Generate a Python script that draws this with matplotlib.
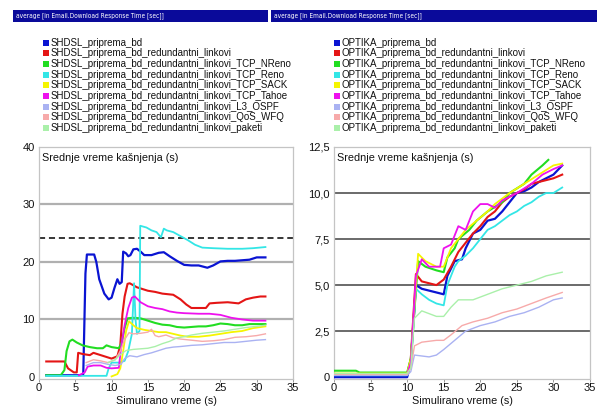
import matplotlib
matplotlib.use("Agg")
import matplotlib.pyplot as plt
from matplotlib.patches import Rectangle

plt.rcParams['font.family'] = ['Liberation Sans', 'DejaVu Sans']

W, H = 597, 407

header_text = "average [in Email.Download Response Time [sec]]"
y_title = "Srednje vreme kašnjenja (s)"
x_title = "Simulirano vreme (s)"

suffixes = ["priprema_bd", "priprema_bd_redundantni_linkovi",
            "priprema_bd_redundantni_linkovi_TCP_NReno",
            "priprema_bd_redundantni_linkovi_TCP_Reno",
            "priprema_bd_redundantni_linkovi_TCP_SACK",
            "priprema_bd_redundantni_linkovi_TCP_Tahoe",
            "priprema_bd_redundantni_linkovi_L3_OSPF",
            "priprema_bd_redundantni_linkovi_QoS_WFQ",
            "priprema_bd_redundantni_linkovi_paketi"]
left_names = ["SHDSL_" + s for s in suffixes]
right_names = ["OPTIKA_" + s for s in suffixes]
colors = ["#0a14d2", "#e41515", "#22dd22", "#33e6e6", "#f5f500",
          "#ee11ee", "#aab2f2", "#f7aaaa", "#aaf0aa"]

x_ticks = [0, 5, 10, 15, 20, 25, 30, 35]
left_yticks = [0, 10, 20, 30, 40]
left_ytick_labels = ["0", "10", "20", "30", "40"]
right_yticks = [0, 2.5, 5, 7.5, 10, 12.5]
right_ytick_labels = ["0", "2,5", "5,0", "7,5", "10,0", "12,5"]
left_threshold = 24.1

# ---------------- left panel (SHDSL) ----------------
L_blue_x = [1, 5.8, 6.1, 6.4, 6.6, 7.6, 7.9, 8.3, 9, 9.6, 10, 10.4, 10.8, 11.1, 11.4, 11.6, 12, 12.3, 12.6, 13, 13.5, 14, 14.5, 15.5, 16.5, 17.2, 18, 19, 20, 21, 22, 23.2, 24, 25, 26, 27, 28, 29, 30, 31.2]
L_blue_y = [0.3, 0.3, 0.5, 18, 21.3, 21.3, 20, 17, 14.5, 13.5, 13.8, 15.5, 17, 16.2, 16.5, 21.8, 21.5, 21, 21.2, 22.2, 22.3, 21.8, 21.2, 21.2, 21.6, 21.7, 21, 20.2, 19.5, 19.4, 19.4, 19.0, 19.4, 20.1, 20.2, 20.2, 20.3, 20.4, 20.8, 20.8]
L_red_x = [1, 3.5, 4, 4.8, 5.2, 5.4, 6, 7, 7.5, 8, 9, 10, 10.8, 11.2, 11.5, 11.8, 12.2, 12.5, 13.5, 15, 16, 17, 18.5, 19.5, 20.3, 21, 22, 23, 23.5, 24.5, 26, 27.5, 28.5, 29.5, 30.5, 31.2]
L_red_y = [2.7, 2.7, 1.5, 0.8, 0.8, 4.2, 4.0, 3.8, 4.2, 4.0, 3.6, 3.2, 3.6, 5.5, 11, 14, 16.2, 16.3, 15.6, 15, 14.8, 14.5, 14.3, 13.5, 12.6, 12.0, 12.0, 12.0, 12.8, 12.9, 13.0, 12.8, 13.5, 13.8, 14.0, 14.0]
L_green_x = [1, 3, 3.5, 3.8, 4.2, 4.6, 5.2, 6, 7, 8, 8.8, 9.3, 10, 11, 11.4, 11.8, 12.2, 13, 14, 15, 16, 17, 18, 19, 20, 21, 22, 23, 24, 25, 26, 27, 28, 29, 30, 31.2]
L_green_y = [0.3, 0.3, 1.2, 4.5, 6.2, 6.5, 6.0, 5.5, 5.2, 5.0, 5.0, 5.5, 5.2, 5.0, 6, 8.5, 10.2, 10.3, 10.2, 9.8, 9.4, 9.1, 9.0, 8.7, 8.6, 8.7, 8.8, 8.8, 9.0, 9.3, 9.2, 9.0, 9.0, 9.2, 9.2, 9.2]
L_cyan_x = [1, 9.3, 9.6, 10, 11, 11.8, 12.3, 12.8, 13.1, 13.3, 13.5, 13.85, 13.95, 14.8, 15.5, 16.2, 16.8, 17.2, 17.6, 18.5, 19.5, 20.5, 21.5, 22.5, 24, 26, 28, 29.5, 31.2]
L_cyan_y = [0.2, 0.2, 1.5, 2.5, 2.5, 2.8, 4.5, 7.5, 16.3, 10, 7.5, 8, 26.3, 26, 25.5, 25.2, 24.3, 25.8, 25.5, 25.2, 24.5, 23.8, 23.0, 22.5, 22.4, 22.3, 22.3, 22.4, 22.6]
L_yellow_x = [10, 10.8, 11.2, 11.6, 12, 12.4, 13, 13.5, 14.5, 15.5, 16.5, 17.5, 18.5, 19.5, 20.5, 22, 23.5, 25, 26.5, 28, 29.5, 31.2]
L_yellow_y = [0.1, 0.5, 1.5, 4.5, 8, 9.7, 9.0, 8.5, 8.2, 8.0, 7.8, 7.8, 7.5, 7.2, 7.0, 7.0, 7.2, 7.5, 7.8, 8.0, 8.5, 8.8]
L_magenta_x = [5.5, 6.3, 6.7, 7.5, 8.5, 9.3, 10, 11, 11.3, 11.8, 12.3, 12.8, 13.2, 14, 15, 16, 17, 18, 19, 20, 22, 23.5, 25, 26.5, 28, 29.5, 31.2]
L_magenta_y = [0.3, 0.8, 1.8, 2.0, 2.0, 1.6, 1.5, 1.6, 5, 9, 12, 13.8, 14, 13, 12.3, 12.0, 11.8, 11.4, 11.2, 11.1, 11.0, 11.0, 10.8, 10.3, 10.0, 9.8, 9.8]
L_ospf_x = [6.5, 7.5, 8.5, 9.5, 10.5, 11.3, 11.8, 12.5, 13.5, 14.5, 15.5, 16.5, 17.5, 18.5, 19.5, 21, 22.5, 24, 25.5, 27, 28.5, 30, 31.2]
L_ospf_y = [2.0, 2.5, 2.5, 2.2, 2.0, 2.2, 3.2, 3.7, 3.5, 3.9, 4.2, 4.6, 5.0, 5.2, 5.3, 5.5, 5.6, 5.8, 6.0, 6.0, 6.2, 6.4, 6.5]
L_wfq_x = [6.5, 7.5, 8.5, 9.5, 10.5, 11.2, 11.8, 12.4, 13, 14, 15, 15.5, 16, 16.5, 17.5, 18.5, 19.5, 21, 22.5, 24, 25.5, 27, 28.5, 30, 31.2]
L_wfq_y = [2.5, 3.0, 2.8, 2.5, 3.0, 4.5, 6.5, 7.7, 7.5, 7.6, 7.8, 8.3, 7.2, 7.0, 7.3, 6.8, 6.6, 6.4, 6.2, 6.3, 6.5, 6.9, 7.0, 7.2, 7.5]
L_pak_x = [9.5, 10.5, 11.3, 12, 13, 14, 15, 16, 17, 18, 19, 20, 21, 22.5, 24, 25.5, 27, 28.5, 30, 31.2]
L_pak_y = [2.5, 3.0, 4.0, 4.6, 4.8, 4.9, 5.0, 5.3, 5.8, 6.2, 6.8, 7.0, 7.3, 7.6, 7.8, 8.0, 8.3, 8.6, 8.8, 9.0]

# ---------------- right panel (OPTIKA) ----------------
R_blue_x = [0, 10, 10.5, 11.2, 12, 13, 14, 15, 15.5, 16.5, 17.5, 18, 19, 20, 21, 22, 23, 24, 25, 26, 27, 28, 29, 30, 31.2]
R_blue_y = [0.0, 0.0, 0.8, 5.0, 4.8, 4.7, 4.6, 4.5, 5.5, 6.3, 6.4, 7.0, 7.8, 8.0, 8.5, 8.6, 9.0, 9.5, 10.0, 10.1, 10.3, 10.6, 10.8, 11.0, 11.5]
R_red_x = [0, 10, 10.5, 11.2, 12, 13, 14, 15, 16, 17, 18, 19, 20, 21, 22, 23, 24, 25, 26, 27, 28, 29, 30, 31.2]
R_red_y = [0.15, 0.15, 1.0, 5.6, 5.2, 5.1, 5.0, 5.3, 6.0, 6.8, 7.3, 7.8, 8.2, 8.7, 9.0, 9.5, 9.8, 10.0, 10.2, 10.5, 10.6, 10.7, 10.8, 11.0]
R_green_x = [0, 3, 3.5, 10, 10.5, 11.5, 12.5, 14, 15, 15.5, 16.5, 17, 18.5, 19.5, 21, 23, 24, 26, 27, 28.5, 29.3]
R_green_y = [0.35, 0.35, 0.25, 0.25, 1.0, 6.3, 6.0, 5.8, 5.7, 6.5, 7.0, 7.5, 8.0, 8.5, 9.0, 9.5, 10.0, 10.5, 11.0, 11.5, 11.8]
R_cyan_x = [0, 10, 10.5, 11.2, 12, 13, 14, 15, 15.5, 16.5, 17, 18, 19, 20, 21, 22, 23, 24, 25, 26, 27, 28, 29, 30, 31.2]
R_cyan_y = [0.1, 0.1, 0.8, 4.8, 4.5, 4.2, 4.0, 3.9, 5.0, 6.0, 6.3, 6.6, 7.0, 7.5, 8.0, 8.2, 8.5, 8.8, 9.0, 9.3, 9.5, 9.8, 10.0, 10.0, 10.3]
R_yellow_x = [0, 10, 10.5, 11.5, 12.5, 14, 15, 16, 17, 18, 19.5, 21, 22, 23, 24, 26, 28, 30, 31.2]
R_yellow_y = [0.2, 0.2, 1.0, 6.7, 6.3, 6.0, 6.0, 7.0, 7.5, 8.0, 8.5, 9.0, 9.4, 9.7, 10.0, 10.5, 11.0, 11.5, 11.6]
R_magenta_x = [0, 10, 10.5, 11.2, 12, 13, 14.5, 15, 16, 17, 18, 19, 20, 21, 22, 23, 25, 27, 28.5, 30, 31.2]
R_magenta_y = [0.15, 0.15, 0.8, 5.5, 6.4, 6.0, 6.0, 7.0, 7.2, 8.2, 8.0, 9.0, 9.4, 9.4, 9.2, 9.6, 10.0, 10.5, 11.0, 11.3, 11.5]
R_ospf_x = [0, 10, 10.5, 11, 12, 13, 14, 15, 16.5, 18, 20, 22, 24, 26, 28, 30, 31.2]
R_ospf_y = [0.1, 0.1, 0.3, 1.2, 1.15, 1.1, 1.2, 1.5, 2.0, 2.5, 2.8, 3.0, 3.3, 3.5, 3.8, 4.2, 4.3]
R_wfq_x = [0, 10, 10.5, 11, 12, 14, 15, 16, 17.5, 19, 21, 23, 25, 27, 29, 31.2]
R_wfq_y = [0.15, 0.15, 0.5, 1.7, 1.9, 2.0, 2.0, 2.3, 2.8, 3.0, 3.2, 3.5, 3.7, 4.0, 4.3, 4.6]
R_pak_x = [0, 10, 10.5, 11, 12, 14, 15, 16, 17, 19, 21, 23, 25, 27, 29, 31.2]
R_pak_y = [0.2, 0.2, 0.5, 3.2, 3.6, 3.3, 3.3, 3.8, 4.2, 4.2, 4.5, 4.8, 5.0, 5.2, 5.5, 5.7]

left_series = [(L_blue_x, L_blue_y), (L_red_x, L_red_y), (L_green_x, L_green_y),
               (L_cyan_x, L_cyan_y), (L_yellow_x, L_yellow_y), (L_magenta_x, L_magenta_y),
               (L_ospf_x, L_ospf_y), (L_wfq_x, L_wfq_y), (L_pak_x, L_pak_y)]
right_series = [(R_blue_x, R_blue_y), (R_red_x, R_red_y), (R_green_x, R_green_y),
                (R_cyan_x, R_cyan_y), (R_yellow_x, R_yellow_y), (R_magenta_x, R_magenta_y),
                (R_ospf_x, R_ospf_y), (R_wfq_x, R_wfq_y), (R_pak_x, R_pak_y)]
line_widths = [1.6, 1.5, 1.5, 1.3, 1.3, 1.3, 1.0, 1.0, 1.0]
draw_order = [6, 7, 8, 4, 2, 5, 1, 3, 0]

fig = plt.figure(figsize=(W / 100, H / 100), dpi=100)
fig.patch.set_facecolor("white")


def px(x0, y0, w, h):
    return [x0 / W, 1 - (y0 + h) / H, w / W, h / H]


def header_and_legend(x0, x1, names, sq_x):
    fig.patches.append(Rectangle((x0 / W, 1 - 22 / H), (x1 - x0) / W, 12 / H,
                                 transform=fig.transFigure, facecolor="#0a0a9a",
                                 edgecolor="none"))
    fig.text((x0 + 3) / W, 1 - 16 / H, header_text, color="white", fontsize=4.7,
             family="DejaVu Sans", fontstretch="condensed", va="center", ha="left")
    for i, (n, c) in enumerate(zip(names, colors)):
        yc = 42.7 + i * 10.67
        fig.patches.append(Rectangle((sq_x / W, 1 - (yc + 3) / H), 6 / W, 6 / H,
                                     transform=fig.transFigure, facecolor=c,
                                     edgecolor="none"))
        fig.text((sq_x + 8) / W, 1 - yc / H, n, fontsize=7.05, va="center",
                 ha="left", color="#111111")


header_and_legend(13, 268, left_names, 43)
header_and_legend(271, 597, right_names, 334)


def style_axes(ax, ylim, yticks, ylabels, gridcolor, gridlw):
    ax.set_xlim(0, 35)
    ax.set_ylim(*ylim)
    ax.set_xticks(x_ticks)
    ax.set_xticklabels([str(t) for t in x_ticks])
    ax.set_yticks(yticks)
    ax.set_yticklabels(ylabels)
    for t in yticks[1:-1]:
        ax.axhline(t, color=gridcolor, lw=gridlw, zorder=1)
    for s in ax.spines.values():
        s.set_color("#c4c4c4")
        s.set_linewidth(0.9)
    ax.tick_params(axis="x", length=2.5, width=0.6, color="#888888", pad=0.5,
                   labelsize=8, labelcolor="#111111")
    ax.tick_params(axis="y", length=0, pad=3, labelsize=8, labelcolor="#111111")
    ax.text(0.012, 0.975, y_title, transform=ax.transAxes, fontsize=7.8,
            va="top", ha="left", color="#111111", zorder=10)
    ax.annotate(x_title, xy=(0.5, 0), xycoords=("axes fraction", "figure pixels"),
                xytext=(0, 0.5), textcoords="offset pixels",
                fontsize=7.8, va="bottom", ha="center", color="#111111",
                annotation_clip=False)


axL = fig.add_axes(px(39, 147, 254, 232))
style_axes(axL, (-0.35, 40), left_yticks, left_ytick_labels, "#b0b0b0", 1.6)
axL.axhline(left_threshold, color="black", lw=1.1, ls=(0, (4, 2.5)), zorder=2)
for i in draw_order:
    x, y = left_series[i]
    axL.plot(x, y, color=colors[i], lw=line_widths[i], zorder=3 + i * 0.01,
             solid_joinstyle="round")

axR = fig.add_axes(px(334, 147, 256, 232))
style_axes(axR, (-0.1, 12.5), right_yticks, right_ytick_labels, "#6a6a6a", 1.4)
for i in draw_order:
    x, y = right_series[i]
    axR.plot(x, y, color=colors[i], lw=line_widths[i], zorder=3 + i * 0.01,
             solid_joinstyle="round")

fig.savefig("out.png", dpi=100, facecolor="white")
